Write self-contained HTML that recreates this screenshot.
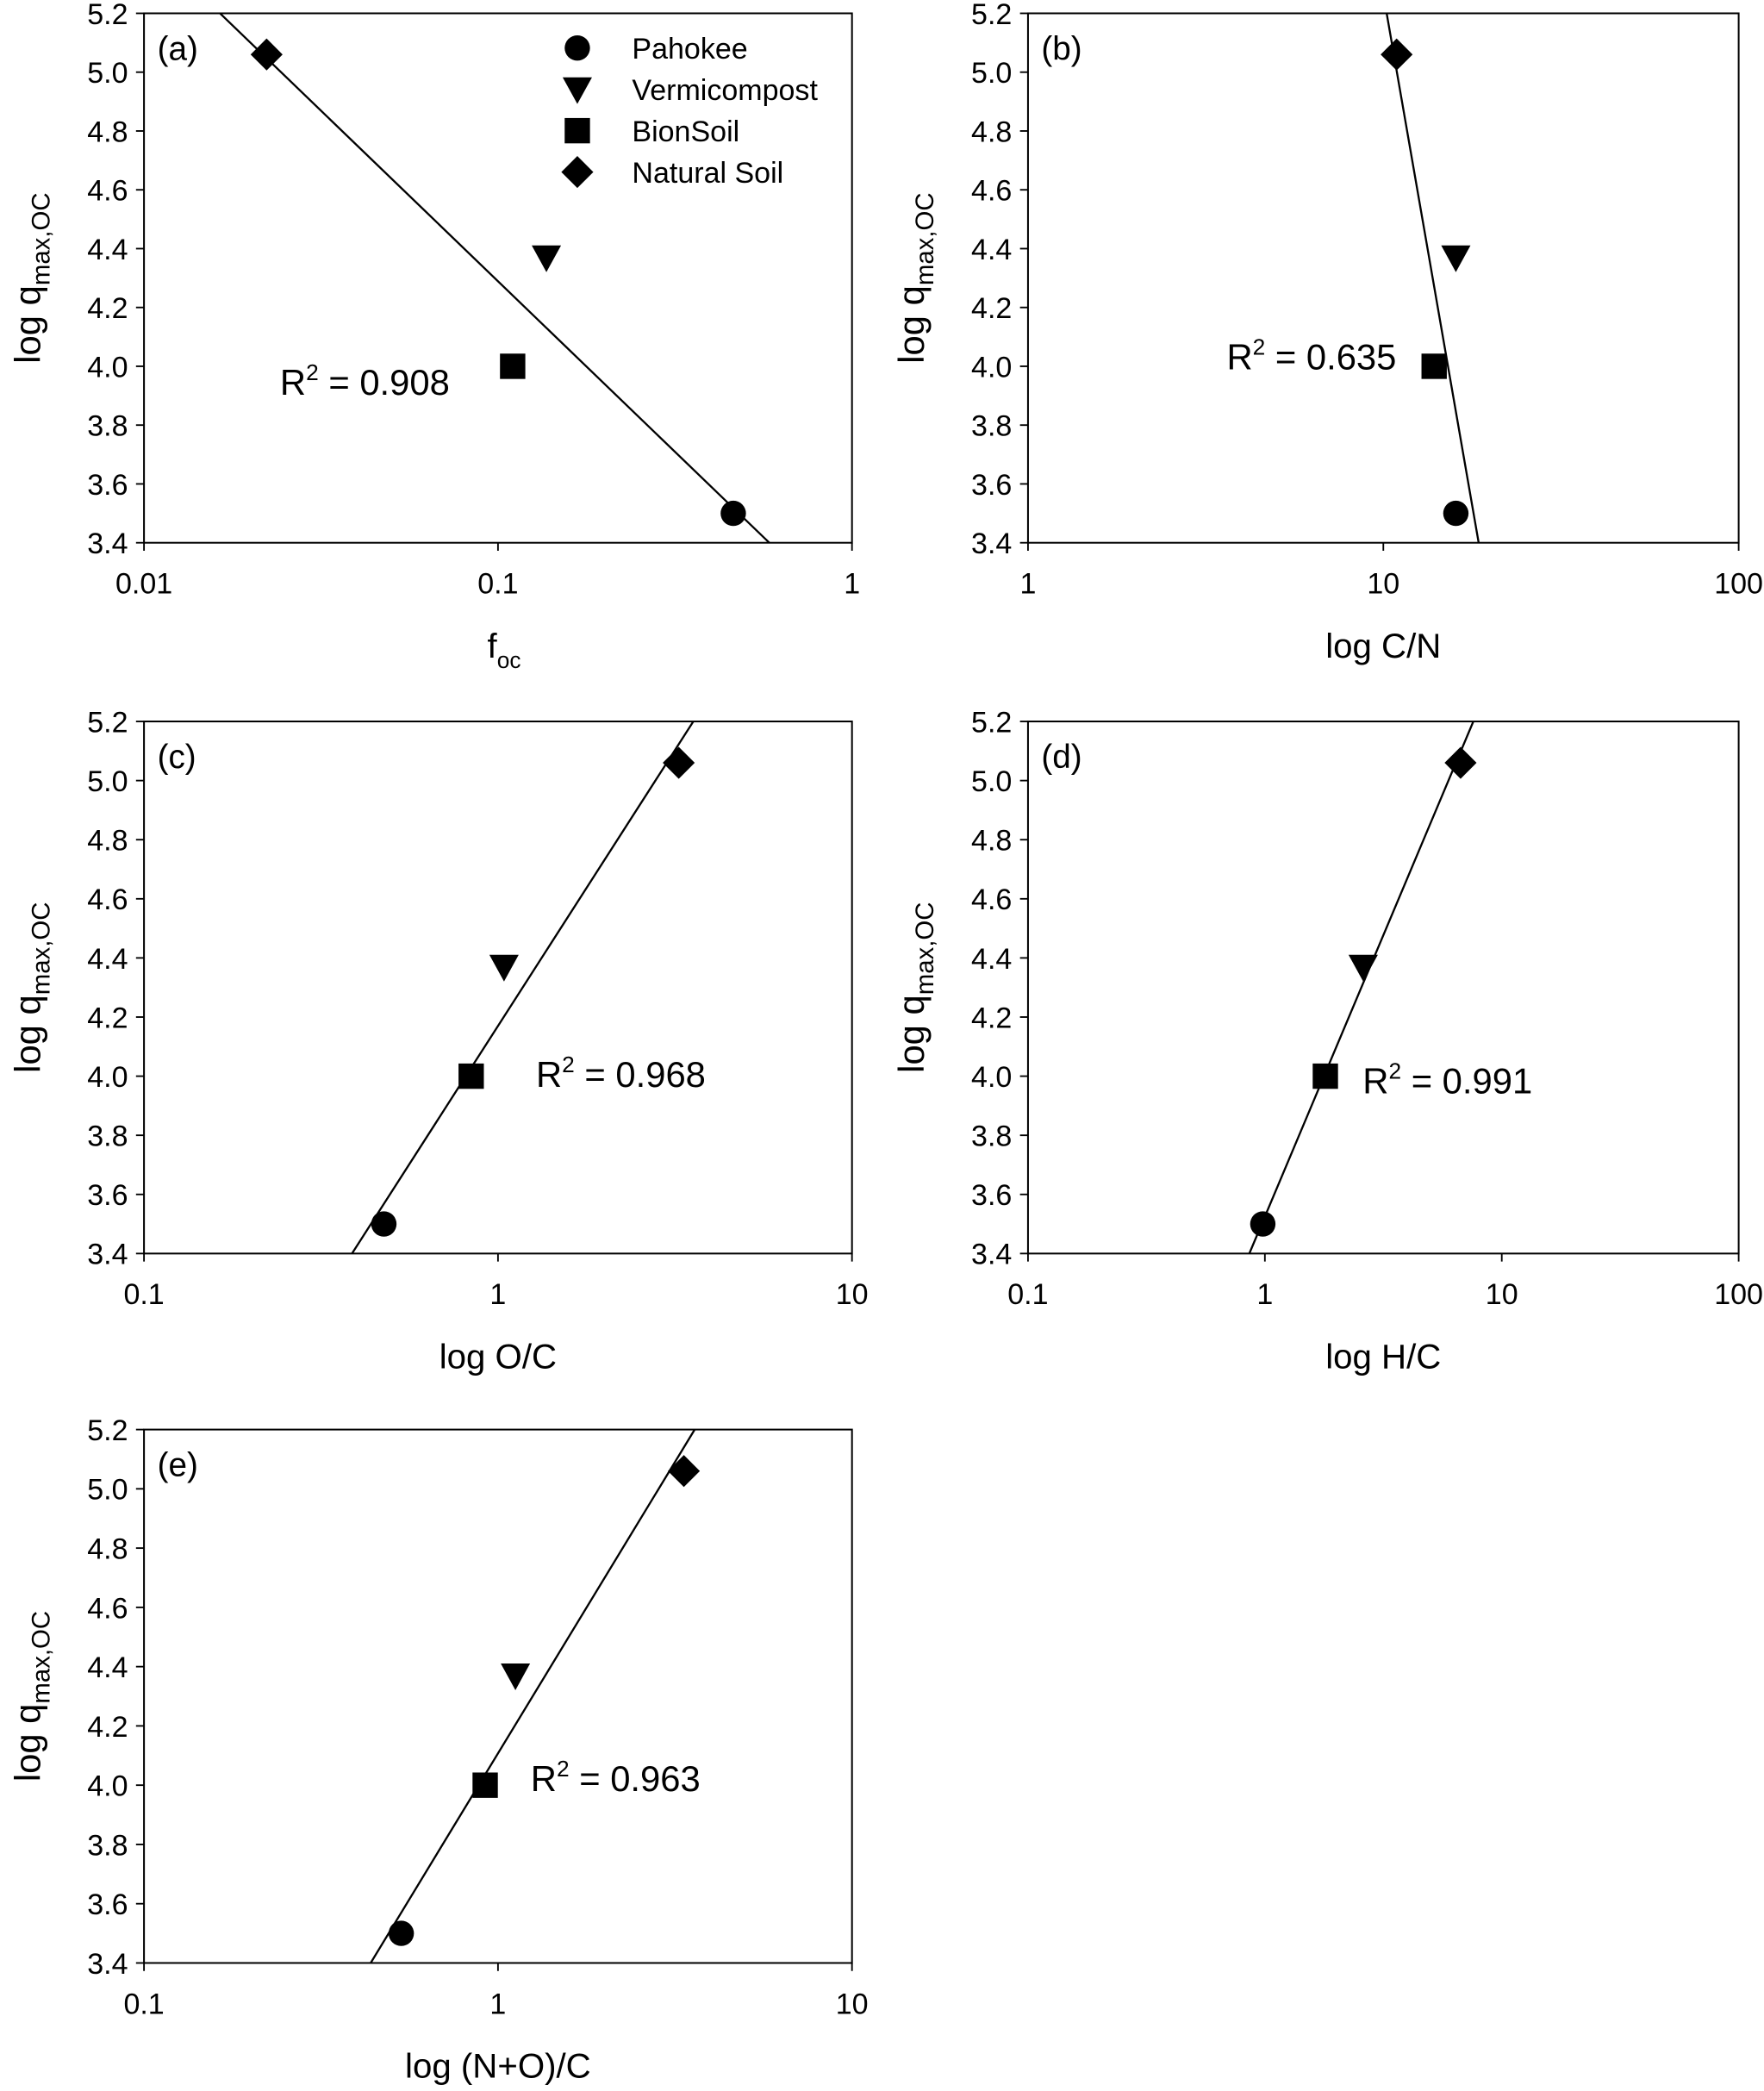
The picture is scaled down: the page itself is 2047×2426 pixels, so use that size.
<!DOCTYPE html>
<html><head><meta charset="utf-8"><style>
html,body{margin:0;padding:0;background:#fff;}
svg{display:block;}
text{font-family:"Liberation Sans",Arial,sans-serif;fill:#000;}
</style></head><body>
<svg id="s" width="2047" height="2426" viewBox="0 0 1323 1568" preserveAspectRatio="none" xmlns="http://www.w3.org/2000/svg"></svg>
<script>
const s=document.getElementById('s');let h='';
const panels=[
 {x0:108,x1:639,y0:10,y1:407,dmin:-2,dec:['0.01','0.1','1'],lab:'(a)',xt:'f',sub:'oc',
  pts:[[0.0222,5.06,'d'],[0.137,4.37,'t'],[0.110,4.0,'s'],[0.462,3.5,'c']],line:[165,10,577,407],r:['0.908',210,296]},
 {x0:771,x1:1304,y0:10,y1:407,dmin:0,dec:['1','10','100'],lab:'(b)',xt:'log C/N',
  pts:[[10.9,5.06,'d'],[16,4.37,'t'],[13.9,4.0,'s'],[16,3.5,'c']],line:[1040,10,1109,407],r:['0.635',920,277]},
 {x0:108,x1:639,y0:541,y1:940,dmin:-1,dec:['0.1','1','10'],lab:'(c)',xt:'log O/C',
  pts:[[3.24,5.06,'d'],[1.04,4.37,'t'],[0.84,4.0,'s'],[0.476,3.5,'c']],line:[520,541,264,940],r:['0.968',402,815]},
 {x0:771,x1:1304,y0:541,y1:940,dmin:-1,dec:['0.1','1','10','100'],lab:'(d)',xt:'log H/C',
  pts:[[6.7,5.06,'d'],[2.6,4.37,'t'],[1.8,4.0,'s'],[0.98,3.5,'c']],line:[1105,541,937,940],r:['0.991',1022,820]},
 {x0:108,x1:639,y0:1072,y1:1472,dmin:-1,dec:['0.1','1','10'],lab:'(e)',xt:'log (N+O)/C',
  pts:[[3.35,5.06,'d'],[1.12,4.37,'t'],[0.92,4.0,'s'],[0.533,3.5,'c']],line:[521,1072,278,1472],r:['0.963',398,1343]}
];
function mk(t,x,y){
 if(t=='c')return `<circle cx="${x}" cy="${y}" r="9.5"/>`;
 if(t=='s')return `<rect x="${x-9.5}" y="${y-9.5}" width="19" height="19"/>`;
 if(t=='t')return `<polygon points="${x-11},${y-9} ${x+11},${y-9} ${x},${y+11}"/>`;
 return `<polygon points="${x},${y-12} ${x+12},${y} ${x},${y+12} ${x-12},${y}"/>`;}
for(const p of panels){
 const nd=p.dec.length-1, W=p.x1-p.x0, H=p.y1-p.y0;
 const X=v=>p.x0+(Math.log10(v)-p.dmin)/nd*W, Y=v=>p.y1-(v-3.4)/1.8*H;
 h+=`<defs><clipPath id="c${p.lab[1]}"><rect x="${p.x0}" y="${p.y0}" width="${W}" height="${H}"/></clipPath></defs>`;
 h+=`<rect x="${p.x0}" y="${p.y0}" width="${W}" height="${H}" fill="none" stroke="#000" stroke-width="1.3"/>`;
 for(let i=0;i<=9;i++){const v=3.4+0.2*i,y=Y(v);
  h+=`<line x1="${p.x0-6}" y1="${y}" x2="${p.x0}" y2="${y}" stroke="#000" stroke-width="1.2"/>`;
  h+=`<text x="${p.x0-12}" y="${y+8}" font-size="22" text-anchor="end">${v.toFixed(1)}</text>`;}
 p.dec.forEach((d,i)=>{const x=p.x0+i*W/nd;
  h+=`<line x1="${x}" y1="${p.y1}" x2="${x}" y2="${p.y1+6}" stroke="#000" stroke-width="1.2"/>`;
  h+=`<text x="${x}" y="${p.y1+38}" font-size="22" text-anchor="middle">${d}</text>`;});
 const xc=(p.x0+p.x1)/2;
 if(p.sub) h+=`<text x="${xc-8}" y="${p.y1+86}" font-size="26">${p.xt}<tspan font-size="17" dy="8">${p.sub}</tspan></text>`;
 else h+=`<text x="${xc}" y="${p.y1+86}" font-size="26" text-anchor="middle">${p.xt}</text>`;
 const tx=p.x0-86, ty=(p.y0+p.y1)/2;
 h+=`<text transform="translate(${tx+8},${ty}) rotate(-90)" font-size="27" text-anchor="middle">log q<tspan font-size="19" dy="7">max,OC</tspan></text>`;
 h+=`<text x="${p.x0+10}" y="${p.y0+35}" font-size="25">${p.lab}</text>`;
 const l=p.line;
 h+=`<line x1="${l[0]}" y1="${l[1]}" x2="${l[2]}" y2="${l[3]}" stroke="#000" stroke-width="1.5" clip-path="url(#c${p.lab[1]})"/>`;
 for(const q of p.pts) h+=mk(q[2],X(q[0]),Y(q[1]));
 h+=`<text x="${p.r[1]}" y="${p.r[2]}" font-size="27">R<tspan font-size="17" dy="-11">2</tspan><tspan dy="11"> = ${p.r[0]}</tspan></text>`;
}
[['c','Pahokee'],['t','Vermicompost'],['s','BionSoil'],['d','Natural Soil']].forEach((e,i)=>{
 const y=36+31*i; h+=mk(e[0],433,y); h+=`<text x="474" y="${y+8}" font-size="22">${e[1]}</text>`;});
s.innerHTML=h;
</script>
</body></html>
